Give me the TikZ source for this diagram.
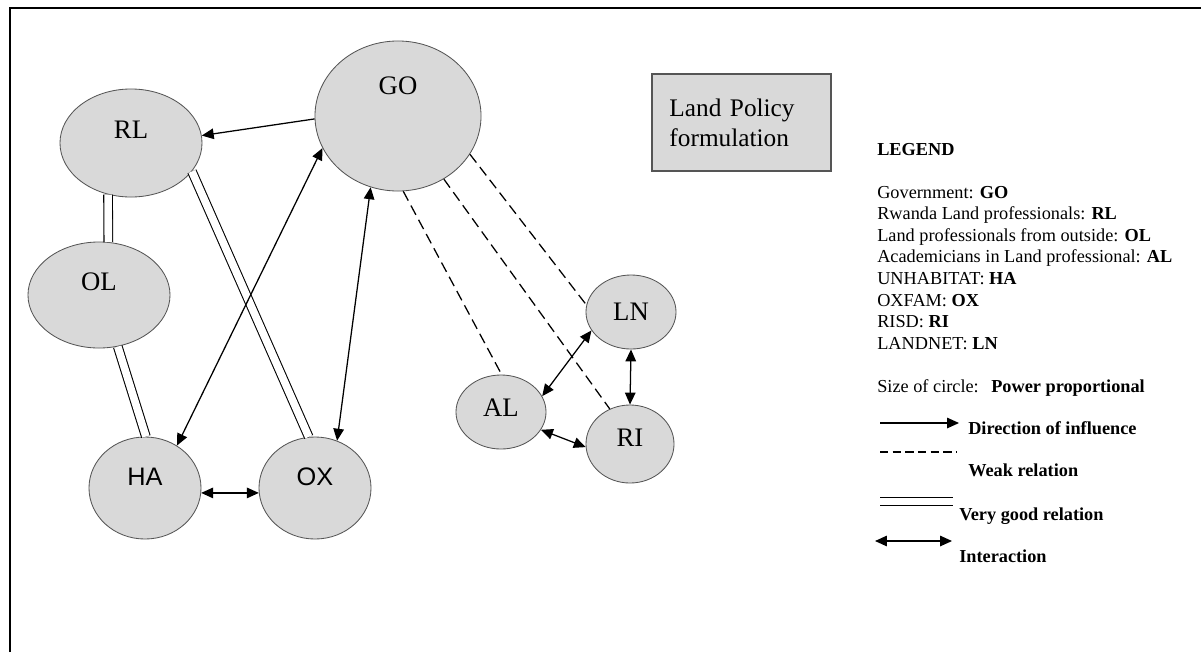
\documentclass[tikz,border=0pt]{standalone}
\usepackage{fontspec}
\setmainfont{Liberation Serif}
\newfontfamily\labsans{Liberation Sans}
\usetikzlibrary{shapes.geometric,arrows.meta}

\tikzset{
  actor/.style={ellipse,draw=kEdge,fill=kFill,line width=0.6pt,inner sep=0pt},
  actlab/.style={font=\fontsize{19}{19}\selectfont},
  sanslab/.style={font=\labsans\fontsize{18}{18}\selectfont},
  arrinfl/.style={-{Triangle[length=8.5pt,width=7.5pt]},line width=0.9pt},
  arrboth/.style={{Triangle[length=8.5pt,width=7.5pt]}-{Triangle[length=8.5pt,width=7.5pt]},line width=0.9pt},
  weakrel/.style={line width=0.9pt,dash pattern=on 7.5pt off 4pt},
  goodrel/.style={double=white,double distance=5.4pt,line width=0.75pt},
  keytext/.style={anchor=base west,inner sep=0pt,font=\fontsize{13}{15}\selectfont},
}

\begin{document}
\begin{tikzpicture}[x=0.025cm,y=-0.025cm]
  % colors
  \definecolor{kFill}{RGB}{217,217,217}
  \definecolor{kEdge}{RGB}{85,85,85}
  % frame
  \useasboundingbox (0,0) rectangle (1201,652);
  \draw[line width=1.3pt] (10,652) -- (10,8) -- (1201,8);

  % actors
  \node[actor,minimum width=4.15cm,minimum height=3.75cm,
    label={[actlab,yshift=0.75cm]center:GO}] (GO) at (398,116) {};
  \node[actor,minimum width=3.55cm,minimum height=2.7cm,
    label={[actlab,yshift=0.325cm]center:RL}] (RL) at (131,143) {};
  \node[actor,minimum width=3.55cm,minimum height=2.65cm,
    label={[actlab,yshift=0.325cm]center:OL}] (OL) at (99,295) {};
  \node[actor,minimum width=2.8cm,minimum height=2.55cm,
    label={[sanslab,yshift=0.275cm]center:HA}] (HA) at (145,488) {};
  \node[actor,minimum width=2.8cm,minimum height=2.55cm,
    label={[sanslab,yshift=0.275cm]center:OX}] (OX) at (315,488) {};
  \node[actor,minimum width=2.25cm,minimum height=1.85cm,
    label={[actlab,yshift=0.1cm]center:AL}] (AL) at (501,412) {};
  \node[actor,minimum width=2.25cm,minimum height=1.85cm,
    label={[actlab]center:LN}] (LN) at (631,312) {};
  \node[actor,minimum width=2.2cm,minimum height=1.95cm,
    label={[actlab,yshift=0.15cm]center:RI}] (RI) at (630,444) {};

  \node[draw=kEdge,fill=kFill,line width=0.8pt,minimum width=4.475cm,minimum height=2.425cm,
    text width=3.6cm,align=left,font=\fontsize{18}{21.5}\selectfont] (LP) at (741.5,122.5)
    {Land Policy\\formulation};

  % relations
  \draw[arrinfl] (GO.182) -- (RL.6);
  \draw[goodrel] (RL.246) -- (OL.80);
  \draw[goodrel] (OL.290) -- (HA.89);
  \draw[goodrel] (RL.335) -- (OX.97);
  \draw[arrboth] (HA.53) -- (GO.203);
  \draw[arrboth] (OX.65) -- (GO.249);
  \draw[arrboth] (HA.355) -- (OX.185);
  \foreach \a/\b in {274/AL.89,306/RI.120,332/LN.171}
    \draw[weakrel] (GO.\a) -- (\b);
  \draw[arrboth] (AL.21) -- (LN.205);
  \draw[arrboth] (LN.south) -- (RI.north);
  \draw[arrboth] (AL.336) -- (RI.184);

  % legend
  \node[keytext,font=\bfseries\fontsize{13}{15}\selectfont] (legend) at (877,155) {LEGEND};
  \foreach \name/\abbr [count=\i] in {Government/GO,Rwanda Land professionals/RL,
      Land professionals from outside/OL,Academicians in Land professional/AL,
      UNHABITAT/HA,OXFAM/OX,RISD/RI,LANDNET/LN}
    \node[keytext] (key\i) at (877,{198+21.6*(\i-1)}) {\name: \textbf{\abbr}};
  \node[keytext] (sizekey) at (877,392) {Size of circle:};
  \node[keytext,font=\bfseries\fontsize{13}{15}\selectfont] (sizeval) at (991,392) {Power proportional};

  \coordinate (i1) at (880,423); \coordinate (i2) at (959,423);
  \coordinate (w1) at (880,452); \coordinate (w2) at (957,452);
  \coordinate (g1) at (880,501.5); \coordinate (g2) at (953,501.5);
  \coordinate (b1) at (875,541); \coordinate (b2) at (952,541);
  \draw[arrinfl] (i1) -- (i2);
  \draw[line width=0.9pt,dash pattern=on 6pt off 3pt] (w1) -- (w2);
  \draw[goodrel] (g1) -- (g2);
  \draw[arrboth] (b1) -- (b2);
  \node[keytext,font=\bfseries\fontsize{13}{15}\selectfont] (infl) at (968,434) {Direction of influence};
  \node[keytext,font=\bfseries\fontsize{13}{15}\selectfont] (weak) at (968,476) {Weak relation};
  \node[keytext,font=\bfseries\fontsize{13}{15}\selectfont] (good) at (959,520) {Very good relation};
  \node[keytext,font=\bfseries\fontsize{13}{15}\selectfont] (both) at (959,562) {Interaction};
\end{tikzpicture}
\end{document}
